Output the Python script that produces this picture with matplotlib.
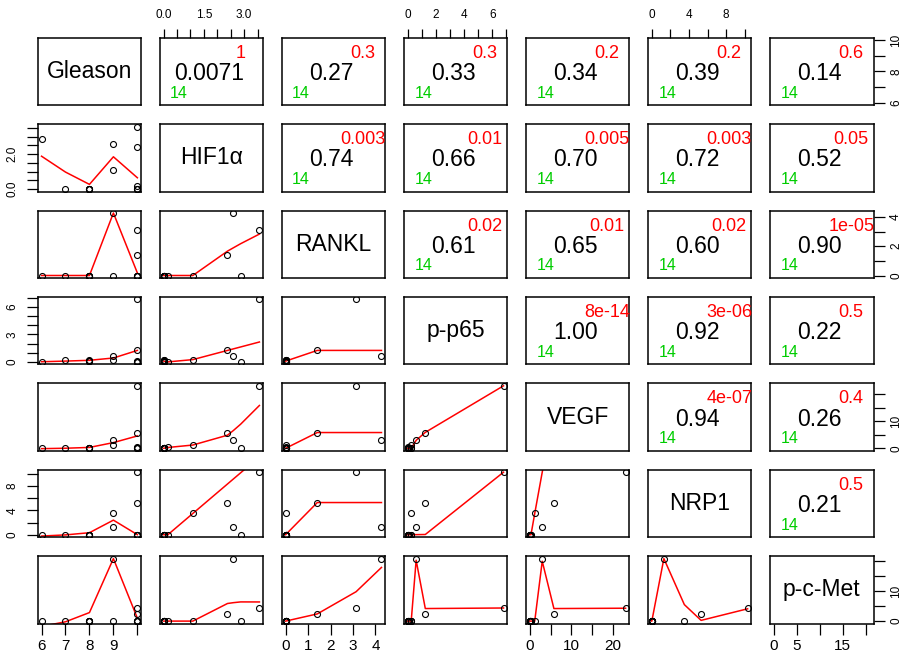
import numpy as np
import matplotlib
matplotlib.use("Agg")
import matplotlib.pyplot as plt

plt.rcParams['font.family'] = ['Liberation Sans', 'DejaVu Sans']

# ---------------- data (14 observations) ----------------
var_names = ["Gleason", "HIF1\u03b1", "RANKL", "p-p65", "VEGF", "NRP1", "p-c-Met"]
gleason = [6, 7, 8, 8, 8, 8, 9, 9, 10, 10, 10, 10, 10, 10]
hif1a   = [2.87, 0, 0, 0, 0, 0, 2.6, 1.09, 2.38, 3.57, 0.16, 0, 0, 0]
rankl   = [0, 0, 0, 0, 0, 0, 4.27, 0, 1.41, 3.14, 0, 0, 0, 0]
pp65    = [0, 0.2, 0.05, 0.25, 0.1, 0.05, 0.6, 0.25, 1.25, 6.8, 0, 0.1, 0, 0]
vegf    = [0.2, 0, 0, 0, 0, 0, 3.0, 1.2, 5.8, 23.0, 0.3, 0, 0, 0]
nrp1    = [0, 0.003, 0, 0.005, 0, 0.002, 1.3, 3.5, 5.3, 10.3, 0, 0.005, 0, 0.003]
pcmet   = [0, 0, 0, 0, 0, 0, 20.9, 0, 2.4, 4.4, 0, 0, 0, 0]
data = [gleason, hif1a, rankl, pp65, vegf, nrp1, pcmet]

# upper-panel statistics (row-wise over i<j)
r_labels = ["0.0071", "0.27", "0.33", "0.34", "0.39", "0.14",
            "0.74", "0.66", "0.70", "0.72", "0.52",
            "0.61", "0.65", "0.60", "0.90",
            "1.00", "0.92", "0.22",
            "0.94", "0.26",
            "0.21"]
p_labels = ["1", "0.3", "0.3", "0.2", "0.2", "0.6",
            "0.003", "0.01", "0.005", "0.003", "0.05",
            "0.02", "0.01", "0.02", "1e-05",
            "8e-14", "3e-06", "0.5",
            "4e-07", "0.4",
            "0.5"]
n_label = "14"

# axis ticks and labels per variable
ticks = [[6, 7, 8, 9, 10],
         [0, 0.5, 1, 1.5, 2, 2.5, 3, 3.5],
         [0, 1, 2, 3, 4],
         [0, 1, 2, 3, 4, 5, 6, 7],
         [0, 5, 10, 15, 20],
         [0, 2, 4, 6, 8, 10],
         [0, 5, 10, 15, 20]]
top_labels = {1: ["0.0", "", "", "1.5", "", "", "3.0", ""],
              3: ["0", "", "2", "", "4", "", "6", ""],
              5: ["0", "", "4", "", "8", ""]}
bottom_labels = {0: ["6", "7", "8", "9", ""],
                 2: ["0", "1", "2", "3", "4"],
                 4: ["0", "", "10", "", "20"],
                 6: ["0", "5", "", "15", ""]}
left_labels = {1: ["0.0", "", "", "", "2.0", "", "", ""],
               3: ["0", "", "", "3", "", "", "6", ""],
               5: ["0", "", "4", "", "8", ""]}
right_labels = {0: ["6", "", "8", "", "10"],
                2: ["0", "", "2", "", "4"],
                4: ["0", "", "10", "", ""],
                6: ["0", "", "10", "", ""]}


# ---------------- R-style lowess (clowess) ----------------
def lowess(xv, yv, f=2/3, iters=3):
    xv = np.asarray(xv, float)
    yv = np.asarray(yv, float)
    o = np.argsort(xv, kind='stable')
    x = xv[o]
    y = yv[o]
    n = len(x)
    rng = x[-1] - x[0]
    delta = 0.01 * rng
    ns = max(2, min(n, int(f * n + 1e-7)))
    ys = np.zeros(n)
    rw = np.ones(n)

    def lowest(xs, nleft, nright, userw):
        w = np.zeros(n)
        h = max(xs - x[nleft], x[nright] - xs)
        h9 = 0.999 * h
        h1 = 0.001 * h
        a = 0.0
        j = nleft
        while j < n:
            r = abs(x[j] - xs)
            if r <= h9:
                if r <= h1:
                    w[j] = 1.0
                else:
                    w[j] = (1 - (r / h) ** 3) ** 3
                if userw:
                    w[j] *= rw[j]
                a += w[j]
            elif x[j] > xs:
                break
            j += 1
        nrt = j - 1
        if a <= 0:
            return None
        sl = slice(nleft, nrt + 1)
        w[sl] /= a
        if h > 0:
            a = np.sum(w[sl] * x[sl])
            b = xs - a
            c = np.sum(w[sl] * (x[sl] - a) ** 2)
            if np.sqrt(c) > 0.001 * rng:
                b /= c
                w[sl] *= (b * (x[sl] - a) + 1)
        return np.sum(w[sl] * y[sl])

    it = 1
    while it <= iters + 1:
        nleft, nright, last, i = 0, ns - 1, -1, 0
        while True:
            if nright < n - 1:
                d1 = x[i] - x[nleft]
                d2 = x[nright + 1] - x[i]
                if d1 > d2:
                    nleft += 1
                    nright += 1
                    continue
            v = lowest(x[i], nleft, nright, it > 1)
            ys[i] = v if v is not None else y[i]
            if last < i - 1:
                denom = x[i] - x[last]
                for j in range(last + 1, i):
                    alpha = (x[j] - x[last]) / denom
                    ys[j] = alpha * ys[i] + (1 - alpha) * ys[last]
            last = i
            cut = x[last] + delta
            i = last + 1
            while i < n:
                if x[i] > cut:
                    break
                if x[i] == x[last]:
                    ys[i] = ys[last]
                    last = i
                i += 1
            i = max(last + 1, i - 1)
            if last >= n - 1:
                break
        res = y - ys
        sc = np.sum(np.abs(res)) / n
        if it > iters:
            break
        ar = np.abs(res)
        m1 = n // 2
        srt = np.sort(ar)
        if n % 2 == 0:
            cmad = 3 * (srt[m1] + srt[m1 - 1])
        else:
            cmad = 6 * srt[m1]
        if cmad < 1e-7 * sc:
            break
        c9 = 0.999 * cmad
        c1 = 0.001 * cmad
        rw = np.where(ar <= c1, 1.0,
                      np.where(ar <= c9, (1 - (ar / cmad) ** 2) ** 2, 0.0))
        it += 1
    return x, ys


# ---------------- layout ----------------
W, H = 902, 654
fig = plt.figure(figsize=(W / 100, H / 100), dpi=100)
nv = len(data)
x0, y0 = 37.7, 37.7
dx, dy = 122.05, 86.4
pw, ph = 103.5, 67.5

lims = []
for v in data:
    lo, hi = min(v), max(v)
    pad = 0.04 * (hi - lo)
    lims.append((lo - pad, hi + pad))

red = '#ff0000'
green = '#00cd00'
k = 0
for i in range(nv):
    for j in range(nv):
        left = x0 + dx * j
        top = y0 + dy * i
        ax = fig.add_axes([left / W, 1 - (top + ph) / H, pw / W, ph / H])
        ax.set_xlim(lims[j])
        ax.set_ylim(lims[i])
        for s in ax.spines.values():
            s.set_linewidth(1.1)
        ax.set_xticks([])
        ax.set_yticks([])
        if i == j:
            ax.text(0.5, 0.5, var_names[i], transform=ax.transAxes,
                    ha='center', va='center', fontsize=16.5)
        elif i < j:
            ax.text(0.48, 0.47, r_labels[k], transform=ax.transAxes,
                    ha='center', va='center', fontsize=16.5, color='black')
            ax.text(0.785, 0.77, p_labels[k], transform=ax.transAxes,
                    ha='center', va='center', fontsize=13, color=red)
            ax.text(0.187, 0.18, n_label, transform=ax.transAxes,
                    ha='center', va='center', fontsize=11.5, color=green)
            k += 1
        else:
            xs, ys = lowess(data[j], data[i])
            ax.plot(xs, ys, color=red, lw=1.1, zorder=2)
            ax.plot(data[j], data[i], 'o', mfc='none', mec='black',
                    ms=4.3, mew=0.8, zorder=3, clip_on=True)

        # outer axes as in R pairs()
        if i == 0 and j in top_labels:
            ax.xaxis.set_ticks_position('top')
            ax.set_xticks(ticks[j])
            ax.set_xticklabels(top_labels[j])
            ax.tick_params(axis='x', direction='out', length=6.8, width=0.9,
                           pad=5.0, labelsize=8.5, top=True, bottom=False,
                           labeltop=True, labelbottom=False)
        if i == nv - 1 and j in bottom_labels:
            ax.xaxis.set_ticks_position('bottom')
            ax.set_xticks(ticks[j])
            ax.set_xticklabels(bottom_labels[j])
            ax.tick_params(axis='x', direction='out', length=8.0, width=0.9,
                           pad=2.8, labelsize=11)
        if j == 0 and i in left_labels:
            ax.yaxis.set_ticks_position('left')
            ax.set_yticks(ticks[i])
            ax.set_yticklabels(left_labels[i], rotation=90, va='center')
            ax.tick_params(axis='y', direction='out', length=8.0, width=0.9,
                           pad=6.0, labelsize=8.5)
        if j == nv - 1 and i in right_labels:
            ax.yaxis.set_ticks_position('right')
            ax.set_yticks(ticks[i])
            ax.set_yticklabels(right_labels[i], rotation=90, va='center')
            ax.tick_params(axis='y', direction='out', length=8.0, width=0.9,
                           pad=4.0, labelsize=8.5, right=True, left=False,
                           labelright=True, labelleft=False)

fig.savefig("out.png", dpi=100)
